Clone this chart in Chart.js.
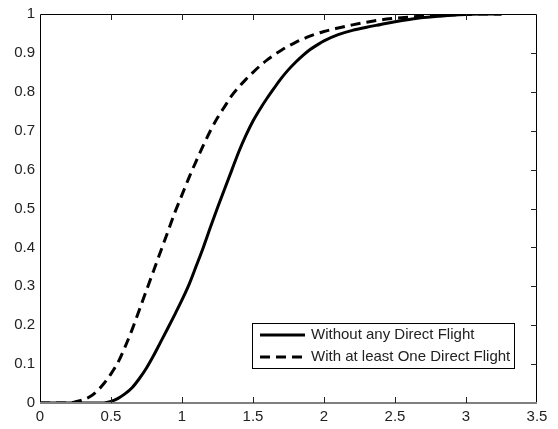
<!DOCTYPE html>
<html>
<head>
<meta charset="utf-8">
<script src="https://cdn.jsdelivr.net/npm/chart.js@4"></script>
<style>
  html, body { margin: 0; padding: 0; background: #fff; }
  #wrap { width: 558px; height: 429px; }
</style>
</head>
<body>
<div id="wrap"><canvas id="cdfChart" width="558" height="429"></canvas></div>
<script>
// travel time CDFs, read as (x, F(x)) pairs
const noDirectX = [0, 0.45, 0.5, 0.55, 0.6, 0.65, 0.7, 0.75, 0.8, 0.85, 0.9, 0.95, 1.0, 1.05, 1.1, 1.15, 1.2, 1.25, 1.3, 1.35, 1.4, 1.45, 1.5, 1.55, 1.6, 1.65, 1.7, 1.75, 1.8, 1.85, 1.9, 1.95, 2.0, 2.1, 2.2, 2.3, 2.4, 2.5, 2.6, 2.7, 2.8, 2.9, 3.0, 3.1, 3.25];
const noDirectY = [0, 0, 0.004, 0.012, 0.024, 0.04, 0.063, 0.09, 0.122, 0.157, 0.192, 0.228, 0.265, 0.305, 0.352, 0.40, 0.452, 0.502, 0.550, 0.598, 0.646, 0.688, 0.725, 0.756, 0.784, 0.810, 0.835, 0.857, 0.876, 0.893, 0.908, 0.920, 0.931, 0.947, 0.958, 0.966, 0.973, 0.980, 0.986, 0.991, 0.994, 0.997, 0.999, 1.0, 1.0];

const directX = [0, 0.2, 0.25, 0.3, 0.35, 0.4, 0.45, 0.5, 0.55, 0.6, 0.65, 0.7, 0.75, 0.8, 0.85, 0.9, 0.95, 1.0, 1.05, 1.1, 1.15, 1.2, 1.25, 1.3, 1.35, 1.4, 1.45, 1.5, 1.55, 1.6, 1.7, 1.8, 1.9, 2.0, 2.1, 2.2, 2.3, 2.4, 2.5, 2.6, 2.7, 2.8, 2.9, 3.0, 3.1, 3.25];
const directY = [0, 0, 0.003, 0.008, 0.016, 0.03, 0.05, 0.075, 0.105, 0.145, 0.19, 0.24, 0.29, 0.34, 0.39, 0.44, 0.49, 0.535, 0.58, 0.622, 0.662, 0.700, 0.733, 0.762, 0.790, 0.812, 0.832, 0.850, 0.867, 0.882, 0.907, 0.927, 0.943, 0.955, 0.964, 0.972, 0.979, 0.985, 0.989, 0.992, 0.995, 0.997, 0.998, 0.999, 1.0, 1.0];

const seriesNames = ['Without any Direct Flight', 'With at least One Direct Flight'];

const xTickLabels = ['0', '0.5', '1', '1.5', '2', '2.5', '3', '3.5'];
const yTickLabels = ['0', '0.1', '0.2', '0.3', '0.4', '0.5', '0.6', '0.7', '0.8', '0.9', '1'];

const FONT = '"Liberation Sans", Arial, sans-serif';
const DASH = [10, 6];

function toPoints(xs, ys) {
  return xs.map((x, i) => ({ x: x, y: ys[i] }));
}

// matlab-ish frame: box, inward ticks on top/bottom/right, legend box
const framePlugin = {
  id: 'frame',
  afterDraw(chart) {
    const ctx = chart.ctx;
    const a = chart.chartArea;
    const xs = chart.scales.x, ys = chart.scales.y;
    const L = 6;
    ctx.save();
    ctx.lineWidth = 1;
    ctx.strokeStyle = '#000';
    ctx.beginPath();
    ctx.moveTo(a.left + 0.5, a.bottom);
    ctx.lineTo(a.left + 0.5, a.top + 0.5);
    ctx.lineTo(a.right - 0.5, a.top + 0.5);
    ctx.lineTo(a.right - 0.5, a.bottom);
    ctx.stroke();
    ctx.strokeStyle = '#808080';
    ctx.lineWidth = 2;
    ctx.beginPath();
    ctx.moveTo(a.left, a.bottom);
    ctx.lineTo(a.right, a.bottom);
    ctx.stroke();

    ctx.strokeStyle = '#222';
    ctx.lineWidth = 1;
    ctx.beginPath();
    xs.ticks.forEach(t => {
      const px = Math.round(xs.getPixelForValue(t.value)) + 0.5;
      if (px <= a.left + 1 || px >= a.right - 1) return;
      ctx.moveTo(px, a.bottom); ctx.lineTo(px, a.bottom - L);
      ctx.moveTo(px, a.top); ctx.lineTo(px, a.top + L);
    });
    ys.ticks.forEach(t => {
      const py = Math.round(ys.getPixelForValue(t.value)) + 0.5;
      if (py <= a.top + 1 || py >= a.bottom - 1) return;
      ctx.moveTo(a.right, py); ctx.lineTo(a.right - L, py);
    });
    ctx.stroke();

    // legend
    const bx = 252.5, by = 323.5, bw = 262, bh = 45;
    ctx.fillStyle = '#fff';
    ctx.fillRect(bx, by, bw, bh);
    ctx.strokeStyle = '#000';
    ctx.lineWidth = 1;
    ctx.strokeRect(bx, by, bw, bh);
    const rows = [335, 357];
    chart.data.datasets.forEach((ds, i) => {
      ctx.strokeStyle = ds.borderColor;
      ctx.lineWidth = ds.borderWidth;
      ctx.setLineDash(ds.borderDash || []);
      ctx.beginPath();
      ctx.moveTo(260, rows[i]);
      ctx.lineTo(305, rows[i]);
      ctx.stroke();
      ctx.setLineDash([]);
      ctx.fillStyle = '#222';
      ctx.font = '15px ' + FONT;
      ctx.textBaseline = 'middle';
      ctx.textAlign = 'left';
      ctx.fillText(ds.label, 311, rows[i]);
    });
    ctx.restore();
  }
};

new Chart(document.getElementById('cdfChart'), {
  type: 'line',
  data: {
    datasets: [{
      label: seriesNames[0],
      data: toPoints(noDirectX, noDirectY),
      borderColor: '#000',
      borderWidth: 3,
      pointRadius: 0,
      cubicInterpolationMode: 'monotone',
      fill: false
    }, {
      label: seriesNames[1],
      data: toPoints(directX, directY),
      borderColor: '#000',
      borderWidth: 3,
      borderDash: DASH,
      pointRadius: 0,
      cubicInterpolationMode: 'monotone',
      fill: false
    }]
  },
  options: {
    responsive: false,
    animation: false,
    layout: { padding: { top: 12, right: 21, left: 0, bottom: 0 } },
    plugins: { legend: { display: false }, tooltip: { enabled: false } },
    scales: {
      x: {
        type: 'linear', min: 0, max: 3.5,
        afterFit: s => { s.height = 26; },
        grid: { drawOnChartArea: false, drawTicks: false },
        border: { display: false },
        ticks: {
          stepSize: 0.5, padding: 5, color: '#222', maxRotation: 0,
          font: { family: FONT, size: 15 },
          callback: (v, i) => xTickLabels[i]
        }
      },
      y: {
        type: 'linear', min: 0, max: 1,
        afterFit: s => { s.width = 40; },
        grid: { drawOnChartArea: false, drawTicks: false },
        border: { display: false },
        ticks: {
          stepSize: 0.1, padding: 5, color: '#222',
          font: { family: FONT, size: 15 },
          callback: (v, i) => yTickLabels[i]
        }
      }
    }
  },
  plugins: [framePlugin]
});
</script>
</body>
</html>
